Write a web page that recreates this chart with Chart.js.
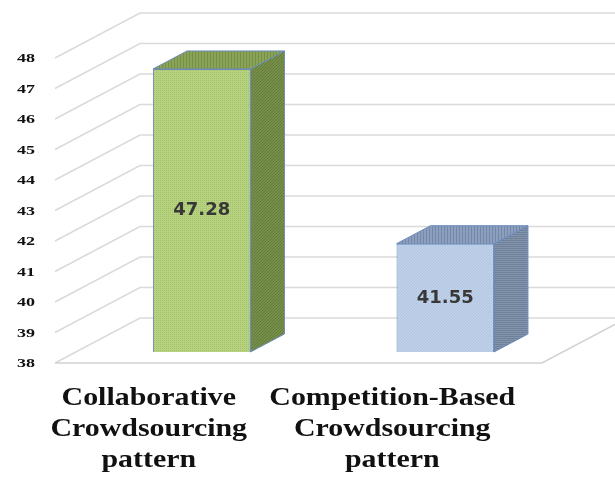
<!DOCTYPE html>
<html>
<head>
<meta charset="utf-8">
<title>Crowdsourcing pattern</title>
<script src="https://cdn.jsdelivr.net/npm/chart.js@4.4.1/dist/chart.umd.min.js"></script>
<style>
  html, body { margin: 0; padding: 0; background: #fff; }
  canvas { display: block; }
</style>
</head>
<body>
<canvas id="chart" width="615" height="479"></canvas>
<script>
// category labels, one line per entry
const categories = [
    ['Collaborative', 'Crowdsourcing', 'pattern'],
    ['Competition-Based', 'Crowdsourcing', 'pattern']
];
const values = [47.28, 41.55];
const valueTicks = [38, 39, 40, 41, 42, 43, 44, 45, 46, 47, 48];

// oblique offsets for the fake 3d box (px)
const FRONT = { x: -21, y: 11 };   // bar plane -> front floor edge
const BACK = { x: 64, y: -34 };    // bar plane -> back wall
const DEPTH = { x: 34, y: -18 };   // bar thickness

function stripes(bg, fg, size, draw) {
    const c = document.createElement('canvas');
    c.width = size;
    c.height = size;
    const g = c.getContext('2d');
    g.fillStyle = bg;
    g.fillRect(0, 0, size, size);
    g.fillStyle = fg;
    g.strokeStyle = fg;
    draw(g, size);
    return g.createPattern(c, 'repeat');
}

const checker = (g, s) => { g.fillRect(0, 0, 1, 1); g.fillRect(2, 2, 1, 1); g.fillRect(2, 0, 1, 1); g.fillRect(0, 2, 1, 1); };
const diag = (g, s) => { g.lineWidth = 1; g.beginPath(); g.moveTo(0, s); g.lineTo(s, 0); g.stroke(); };
const horiz = (g, s) => { g.fillRect(0, 0, s, 1); };
const vert = (g, s) => { g.fillRect(0, 0, 1, s); };

const faces = [
    {
        front: stripes('#b6d27e', '#a5c16d', 4, checker),
        side: stripes('#76904a', '#647b3c', 3, diag),
        top: stripes('#8aa457', '#778f47', 3, vert)
    },
    {
        front: stripes('#c0d2ea', '#b0c4df', 3, diag),
        side: stripes('#8293ab', '#6f8199', 2, horiz),
        top: stripes('#8c9fbe', '#7488a8', 3, vert)
    }
];
const edge = '#6c8cbc';

const box3d = {
    id: 'box3d',
    beforeDatasetsDraw(chart) {
        const ctx = chart.ctx;
        const y = chart.scales.y;
        const area = chart.chartArea;
        const left = area.left - 4;
        const right = area.right - 4;

        ctx.save();
        ctx.lineWidth = 1.5;
        ctx.strokeStyle = '#dadada';
        valueTicks.forEach(v => {
            const py = y.getPixelForValue(v);
            ctx.beginPath();
            ctx.moveTo(left + FRONT.x, py + FRONT.y);
            ctx.lineTo(left + BACK.x, py + BACK.y);
            ctx.lineTo(right + BACK.x, py + BACK.y);
            ctx.stroke();
        });

        // floor front and right edges
        const py0 = y.getPixelForValue(valueTicks[0]);
        ctx.strokeStyle = '#d2d2d2';
        ctx.beginPath();
        ctx.moveTo(left + FRONT.x, py0 + FRONT.y);
        ctx.lineTo(right + FRONT.x, py0 + FRONT.y);
        ctx.lineTo(right + BACK.x, py0 + BACK.y);
        ctx.stroke();

        // value axis labels
        ctx.fillStyle = '#111';
        ctx.font = 'bold 12px "Liberation Serif"';
        ctx.textAlign = 'right';
        ctx.textBaseline = 'middle';
        valueTicks.forEach(v => {
            const py = y.getPixelForValue(v);
            ctx.save();
            ctx.translate(35, py + FRONT.y + 1);
            ctx.scale(1.5, 1);
            ctx.fillText(String(v), 0, 0);
            ctx.restore();
        });

        // category labels
        const x = chart.scales.x;
        ctx.fillStyle = '#111';
        ctx.font = 'bold 26px "Liberation Serif"';
        ctx.textAlign = 'center';
        ctx.textBaseline = 'alphabetic';
        categories.forEach((lines, i) => {
            const cx = x.getPixelForValue(i) - 53;
            lines.forEach((t, k) => {
                ctx.save();
                ctx.translate(cx, area.bottom + 53 + k * 31);
                ctx.scale(1.15, 1);
                ctx.fillText(t, 0, 0);
                ctx.restore();
            });
        });
        ctx.restore();
    },
    afterDatasetsDraw(chart) {
        const ctx = chart.ctx;
        const meta = chart.getDatasetMeta(0);
        ctx.save();
        ctx.lineWidth = 1;
        ctx.strokeStyle = edge;
        ctx.lineJoin = 'round';
        meta.data.forEach((bar, i) => {
            const l = bar.x - bar.width / 2;
            const r = bar.x + bar.width / 2;
            const t = bar.y;
            const b = bar.base;

            // right side
            ctx.beginPath();
            ctx.moveTo(r, t);
            ctx.lineTo(r + DEPTH.x, t + DEPTH.y);
            ctx.lineTo(r + DEPTH.x, b + DEPTH.y);
            ctx.lineTo(r, b);
            ctx.closePath();
            ctx.fillStyle = faces[i].side;
            ctx.fill();
            ctx.stroke();

            // top
            ctx.beginPath();
            ctx.moveTo(l, t);
            ctx.lineTo(l + DEPTH.x, t + DEPTH.y);
            ctx.lineTo(r + DEPTH.x, t + DEPTH.y);
            ctx.lineTo(r, t);
            ctx.closePath();
            ctx.fillStyle = faces[i].top;
            ctx.fill();
            ctx.stroke();

            // value in the middle of the front face
            ctx.fillStyle = '#383838';
            ctx.font = 'bold 18px "DejaVu Sans"';
            ctx.textAlign = 'center';
            ctx.textBaseline = 'middle';
            ctx.fillText(values[i].toFixed(2), bar.x, (t + b) / 2);
        });
        ctx.restore();
    }
};

new Chart(document.getElementById('chart'), {
    type: 'bar',
    data: {
        labels: categories,
        datasets: [{
            data: values,
            base: valueTicks[0],
            backgroundColor: faces.map(f => f.front),
            borderColor: edge,
            borderWidth: 1,
            barPercentage: 0.4,
            categoryPercentage: 1
        }]
    },
    options: {
        responsive: false,
        animation: false,
        layout: {
            padding: { left: 80, right: 48, top: 47, bottom: 127 }
        },
        scales: {
            x: { display: false },
            y: { display: false, min: 38, max: 48 }
        },
        plugins: {
            legend: { display: false },
            tooltip: { enabled: false }
        }
    },
    plugins: [box3d]
});
</script>
</body>
</html>
